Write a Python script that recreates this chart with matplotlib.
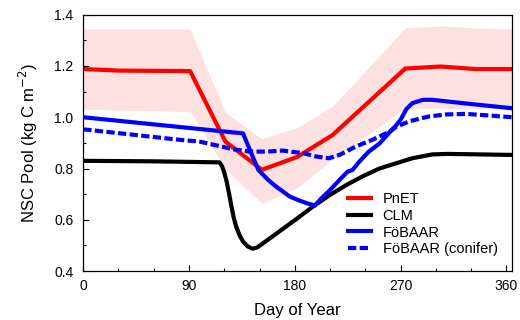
import matplotlib
matplotlib.use("Agg")
import matplotlib.pyplot as plt
from matplotlib.ticker import MultipleLocator

plt.rcParams['font.family'] = ['Liberation Sans', 'DejaVu Sans']

# PnET (mean and spread band)
days_pnet = [0, 31, 91, 121, 152, 182, 212, 274, 304, 334, 365]
pnet = [1.188, 1.182, 1.180, 0.905, 0.795, 0.845, 0.930, 1.190, 1.198, 1.188, 1.188]
pnet_upper = [1.344, 1.344, 1.344, 1.018, 0.916, 0.960, 1.042, 1.348, 1.357, 1.348, 1.345]
pnet_lower = [1.032, 1.028, 1.022, 0.800, 0.664, 0.725, 0.835, 1.035, 1.035, 1.035, 1.035]

# CLM
days_clm = [0, 60, 116, 118, 120, 122, 124, 126, 128, 130, 133, 136, 140, 144, 148,
            152, 167, 182, 195, 210, 224, 238, 252, 266, 280, 297, 310, 365]
clm = [0.830, 0.828, 0.824, 0.810, 0.785, 0.750, 0.705, 0.655, 0.610, 0.575, 0.540,
       0.515, 0.496, 0.487, 0.492, 0.505, 0.555, 0.605, 0.650, 0.697, 0.736, 0.770,
       0.800, 0.820, 0.840, 0.855, 0.857, 0.853]

# FoBAAR
days_fb = [0, 136, 142, 149, 157, 164, 176, 184, 190, 197, 203, 210, 218, 225, 229,
           235, 243, 252, 260, 266, 270, 275, 280, 289, 297, 323, 365]
fb = [1.000, 0.937, 0.870, 0.795, 0.757, 0.730, 0.690, 0.675, 0.665, 0.656, 0.685,
      0.716, 0.755, 0.788, 0.794, 0.827, 0.866, 0.897, 0.938, 0.967, 0.990, 1.032,
      1.055, 1.068, 1.068, 1.055, 1.035]

# FoBAAR (conifer)
days_con = [0, 82, 99, 128, 142, 156, 170, 176, 187, 198, 209, 218, 232, 246, 260,
            266, 278, 294, 309, 326, 345, 365]
con = [0.953, 0.912, 0.905, 0.875, 0.866, 0.866, 0.870, 0.866, 0.860, 0.847, 0.840,
       0.853, 0.886, 0.912, 0.942, 0.962, 0.985, 1.003, 1.011, 1.013, 1.007, 1.000]

labels = ['PnET', 'CLM', 'FöBAAR', 'FöBAAR (conifer)']

fig = plt.figure(figsize=(5.2, 3.2), dpi=100)
ax = fig.add_axes([0.160, 0.153, 0.825, 0.801])

ax.fill_between(days_pnet, pnet_lower, pnet_upper, color='#fde0e0', lw=0, zorder=1)
ax.plot(days_pnet, pnet, color='#ff0000', lw=3, label=labels[0], zorder=2)
ax.plot(days_clm, clm, color='black', lw=3, label=labels[1], zorder=3)
ax.plot(days_fb, fb, color='#0000ff', lw=3, label=labels[2], zorder=4)
ax.plot(days_con, con, color='#0000ff', lw=3, linestyle=(0, (2, 0.8)), label=labels[3], zorder=5)

ax.set_xlim(0, 365)
ax.set_ylim(0.4, 1.4)
ax.xaxis.set_major_locator(MultipleLocator(90))
ax.xaxis.set_minor_locator(MultipleLocator(30))
ax.yaxis.set_major_locator(MultipleLocator(0.2))
ax.yaxis.set_minor_locator(MultipleLocator(0.1))
ax.tick_params(which='both', direction='in', labelsize=10, width=0.8)
ax.tick_params(which='major', length=4)
ax.tick_params(which='minor', length=2.5)
ax.tick_params(axis='x', pad=6)
ax.tick_params(axis='y', pad=7)
for s in ax.spines.values():
    s.set_linewidth(0.9)

ax.set_xlabel('Day of Year', fontsize=12, labelpad=7)
ax.set_ylabel('NSC Pool (kg C m$^{-2}$)', fontsize=12, labelpad=10)

ax.legend(loc='lower right', frameon=False, fontsize=10.5, handlelength=1.6,
          handletextpad=0.8, labelspacing=0.2, borderaxespad=0.6)

fig.savefig('out.png', dpi=100)
